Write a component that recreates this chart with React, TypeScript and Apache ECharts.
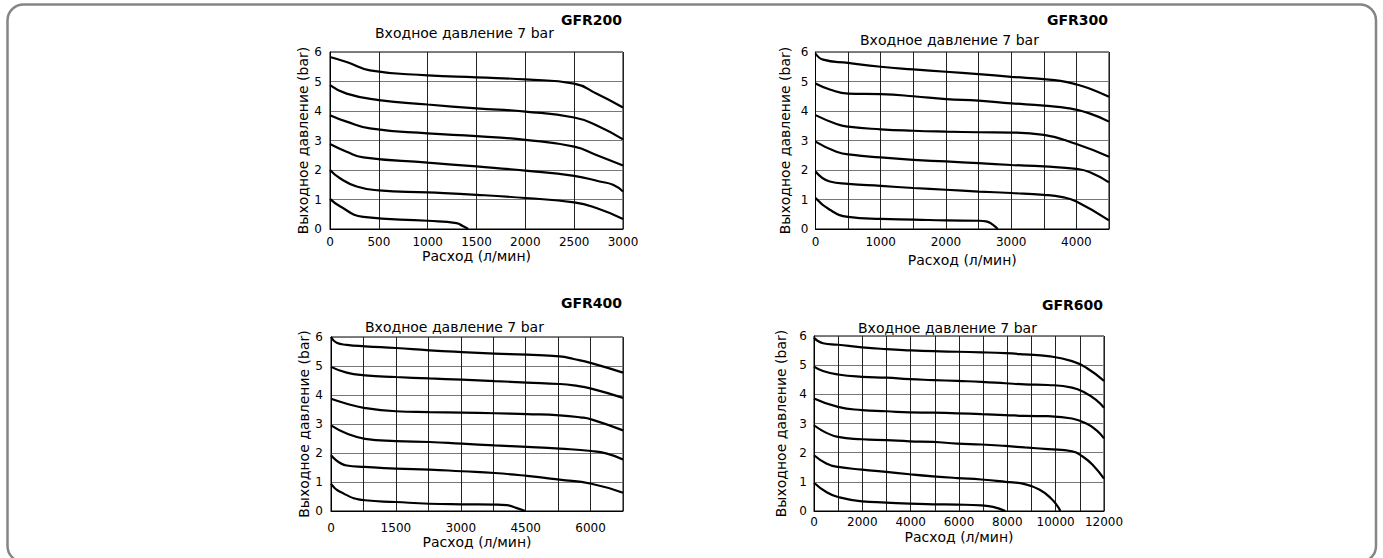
import React, { useEffect, useRef } from "react";
import * as echarts from "echarts";

// ---------- data (flow l/min, outlet pressure bar) ----------
const TITLES = ["GFR200", "GFR300", "GFR400", "GFR600"];
const SUBTITLE = "Входное давление 7 bar";
const X_NAME = "Расход (л/мин)";
const Y_NAME = "Выходное давление (bar)";

const Y_LABELS = [0, 1, 2, 3, 4, 5, 6];
const GFR200_X_LABELS = [0, 500, 1000, 1500, 2000, 2500, 3000];
const GFR300_X_LABELS = [0, 1000, 2000, 3000, 4000];
const GFR400_X_LABELS = [0, 1500, 3000, 4500, 6000];
const GFR600_X_LABELS = [0, 2000, 4000, 6000, 8000, 10000, 12000];

const GFR200_CURVES = [
  [[0, 5.83], [170, 5.66], [409, 5.38], [1000, 5.21], [1500, 5.14], [2000, 5.07], [2500, 4.93], [2727, 4.59], [3000, 4.12]],
  [[0, 4.88], [170, 4.59], [500, 4.37], [1000, 4.22], [1500, 4.09], [2000, 3.98], [2500, 3.78], [2727, 3.52], [3000, 3.04]],
  [[0, 3.86], [170, 3.64], [409, 3.41], [1000, 3.24], [1500, 3.15], [2000, 3.02], [2500, 2.79], [2727, 2.51], [3000, 2.15]],
  [[0, 2.88], [170, 2.62], [341, 2.43], [1000, 2.25], [1500, 2.12], [2000, 1.98], [2500, 1.8], [2761, 1.61], [2898, 1.5], [3000, 1.27]],
  [[0, 2.0], [102, 1.72], [273, 1.44], [500, 1.31], [1000, 1.24], [1500, 1.16], [2000, 1.05], [2500, 0.9], [2727, 0.71], [3000, 0.34]],
  [[0, 1.02], [102, 0.77], [341, 0.41], [1000, 0.28], [1295, 0.2], [1364, 0.09], [1415, 0]],
];

const GFR300_CURVES = [
  [[0, 5.95], [117, 5.74], [500, 5.63], [1000, 5.5], [1500, 5.41], [2000, 5.33], [2500, 5.25], [3000, 5.16], [3500, 5.08], [3755, 5.02], [4000, 4.9], [4200, 4.76], [4500, 4.48]],
  [[0, 4.93], [219, 4.73], [500, 4.59], [1000, 4.57], [1500, 4.5], [2000, 4.4], [2500, 4.35], [3000, 4.26], [3500, 4.18], [3888, 4.09], [4200, 3.92], [4500, 3.64]],
  [[0, 3.86], [321, 3.56], [500, 3.47], [1000, 3.38], [1500, 3.33], [2000, 3.3], [2500, 3.28], [3000, 3.27], [3500, 3.19], [4000, 2.88], [4500, 2.45]],
  [[0, 2.96], [321, 2.62], [576, 2.51], [1000, 2.43], [1500, 2.34], [2000, 2.29], [2500, 2.23], [3000, 2.17], [3500, 2.12], [4000, 2.04], [4200, 1.93], [4500, 1.58]],
  [[0, 1.95], [219, 1.61], [500, 1.53], [1000, 1.46], [1500, 1.39], [2000, 1.33], [2500, 1.27], [3000, 1.22], [3500, 1.16], [3785, 1.08], [4000, 0.93], [4500, 0.29]],
  [[0, 1.05], [219, 0.65], [500, 0.41], [1000, 0.34], [1500, 0.32], [2000, 0.29], [2500, 0.28], [2615, 0.26], [2717, 0.15], [2793, 0]],
];

const GFR400_CURVES = [
  [[0, 6.0], [131, 5.8], [363, 5.73], [787, 5.68], [1500, 5.62], [2276, 5.54], [3024, 5.48], [3780, 5.43], [4528, 5.39], [5284, 5.33], [5610, 5.24], [6017, 5.1], [6750, 4.77]],
  [[0, 4.97], [363, 4.77], [787, 4.68], [1500, 4.62], [2276, 4.57], [3024, 4.53], [3780, 4.48], [4528, 4.43], [5284, 4.38], [5610, 4.33], [6017, 4.22], [6750, 3.9]],
  [[0, 3.87], [363, 3.7], [787, 3.55], [1500, 3.44], [2276, 3.41], [3024, 3.39], [3780, 3.37], [4528, 3.34], [5284, 3.3], [5765, 3.23], [6017, 3.16], [6750, 2.78]],
  [[0, 2.95], [363, 2.67], [787, 2.49], [1500, 2.41], [2276, 2.38], [3024, 2.32], [3780, 2.26], [4528, 2.21], [5284, 2.15], [6017, 2.07], [6380, 1.98], [6750, 1.78]],
  [[0, 1.92], [363, 1.57], [787, 1.52], [1500, 1.46], [2276, 1.43], [3024, 1.37], [3780, 1.31], [4528, 1.21], [5284, 1.08], [6017, 0.94], [6750, 0.63]],
  [[0, 0.94], [208, 0.66], [787, 0.37], [1500, 0.31], [2276, 0.25], [3024, 0.23], [3780, 0.22], [4066, 0.2], [4297, 0.1], [4491, 0]],
];

const GFR600_CURVES = [
  [[0, 5.94], [372, 5.75], [993, 5.7], [1986, 5.61], [2993, 5.55], [3959, 5.51], [4924, 5.48], [5931, 5.46], [6924, 5.44], [7917, 5.41], [8717, 5.37], [9683, 5.31], [10676, 5.14], [11269, 4.91], [12000, 4.46]],
  [[0, 4.95], [372, 4.8], [993, 4.68], [1986, 4.6], [2993, 4.57], [3959, 4.52], [4924, 4.49], [5931, 4.46], [6924, 4.43], [7917, 4.38], [8717, 4.34], [9683, 4.32], [10676, 4.23], [11269, 4.03], [11683, 3.8], [12000, 3.54]],
  [[0, 3.86], [993, 3.57], [1986, 3.46], [2993, 3.42], [3959, 3.38], [4924, 3.37], [5931, 3.35], [6924, 3.32], [7917, 3.29], [8717, 3.26], [9683, 3.25], [10676, 3.17], [11269, 3.0], [11683, 2.77], [12000, 2.49]],
  [[0, 2.94], [993, 2.54], [1986, 2.46], [2993, 2.43], [3959, 2.39], [4924, 2.37], [5931, 2.31], [6924, 2.28], [7917, 2.23], [8717, 2.18], [9683, 2.12], [10676, 2.05], [11131, 1.86], [11545, 1.57], [12000, 1.11]],
  [[0, 1.91], [510, 1.63], [993, 1.51], [1986, 1.42], [2993, 1.34], [3959, 1.26], [4924, 1.19], [5931, 1.13], [6924, 1.08], [7917, 1.0], [8717, 0.92], [9338, 0.73], [9821, 0.42], [10097, 0.14], [10193, 0]],
  [[0, 0.97], [510, 0.65], [993, 0.48], [1986, 0.33], [2993, 0.29], [3959, 0.25], [4924, 0.23], [5931, 0.22], [6924, 0.19], [7407, 0.14], [7917, 0]],
];

const CURVES = [GFR200_CURVES, GFR300_CURVES, GFR400_CURVES, GFR600_CURVES];
const X_LABELS = [GFR200_X_LABELS, GFR300_X_LABELS, GFR400_X_LABELS, GFR600_X_LABELS];
const X_MAX = [3000, 4500, 6750, 12000];
const X_STEP = [500, 500, 750, 1000];

// ---------- layout ----------
const LAYOUT = [
  { left: 330, top: 52, width: 293, height: 177, lm: 7, ng: 19, yng: 20, ylm: 8, tx: 622, ty: 20, sx: 375, sy: 33 },
  { left: 815.5, top: 52, width: 293.5, height: 177, lm: 7, ng: 24, yng: 24, ylm: 7, tx: 1108, ty: 20, sx: 860, sy: 40 },
  { left: 331, top: 337, width: 292, height: 174, lm: 11, ng: 24, yng: 19, ylm: 8, tx: 622, ty: 303, sx: 365, sy: 327 },
  { left: 814, top: 336, width: 290, height: 175, lm: 5, ng: 19, yng: 26, ylm: 7, tx: 1103, ty: 305, sx: 858, sy: 328 },
];

const FONT = "DejaVu Sans";

export default function App() {
  const ref = useRef<HTMLDivElement>(null);

  useEffect(() => {
    if (!ref.current) return;
    const chart = echarts.init(ref.current, null, { renderer: "svg" });

    const grid: any[] = [];
    const xAxis: any[] = [];
    const yAxis: any[] = [];
    const series: any[] = [];
    const graphic: any[] = [
      {
        type: "rect",
        shape: { x: 7.5, y: 4.5, width: 1368.5, height: 557.5, r: 16 },
        style: { fill: "none", stroke: "#858585", lineWidth: 2.5 },
        silent: true,
      },
    ];

    LAYOUT.forEach((L, i) => {
      grid.push({
        left: L.left,
        top: L.top,
        width: L.width,
        height: L.height,
        show: true,
        borderColor: "#000",
        borderWidth: 1,
        backgroundColor: "transparent",
        containLabel: false,
      });
      const labels = X_LABELS[i];
      xAxis.push({
        type: "value",
        gridIndex: i,
        min: 0,
        max: X_MAX[i],
        interval: X_STEP[i],
        name: X_NAME,
        nameLocation: "middle",
        nameGap: L.ng,
        nameTextStyle: { fontFamily: FONT, fontSize: 14, color: "#000" },
        axisLine: { show: true, lineStyle: { color: "#000", width: 1 } },
        axisTick: { show: false },
        axisLabel: {
          fontFamily: FONT,
          fontSize: 12,
          color: "#000",
          margin: L.lm,
          showMinLabel: true,
          showMaxLabel: true,
          hideOverlap: false,
          formatter: (v: number) => (labels.indexOf(v) >= 0 ? String(v) : ""),
        },
        splitLine: { show: true, lineStyle: { color: "#222", width: 1 } },
      });
      yAxis.push({
        type: "value",
        gridIndex: i,
        min: 0,
        max: 6,
        interval: 1,
        name: Y_NAME,
        nameLocation: "middle",
        nameGap: L.yng,
        nameRotate: 90,
        nameTextStyle: { fontFamily: FONT, fontSize: 14, color: "#000" },
        axisLine: { show: true, lineStyle: { color: "#000", width: 1 } },
        axisTick: { show: false },
        axisLabel: {
          fontFamily: FONT,
          fontSize: 12,
          color: "#000",
          margin: L.ylm,
          formatter: (v: number) => (Y_LABELS.indexOf(v) >= 0 ? String(v) : ""),
        },
        splitLine: { show: true, lineStyle: { color: "#777", width: 1 } },
      });
      CURVES[i].forEach((curve) => {
        series.push({
          type: "line",
          xAxisIndex: i,
          yAxisIndex: i,
          data: curve,
          showSymbol: false,
          symbol: "none",
          smooth: 0.5,
          lineStyle: { color: "#000", width: 2.2 },
          silent: true,
        });
      });
      graphic.push({
        type: "text",
        x: L.tx,
        y: L.ty,
        style: {
          text: TITLES[i],
          font: `bold 14px "${FONT}"`,
          fill: "#000",
          align: "right",
          verticalAlign: "middle",
        },
      });
      graphic.push({
        type: "text",
        x: L.sx,
        y: L.sy,
        style: {
          text: SUBTITLE,
          font: `14px "${FONT}"`,
          fill: "#000",
          align: "left",
          verticalAlign: "middle",
        },
      });
    });

    chart.setOption({
      animation: false,
      backgroundColor: "#fff",
      grid,
      xAxis,
      yAxis,
      series,
      graphic,
    });

    return () => chart.dispose();
  }, []);

  return (
    <div
      ref={ref}
      style={{ position: "absolute", left: 0, top: 0, width: 1383, height: 558 }}
    />
  );
}
